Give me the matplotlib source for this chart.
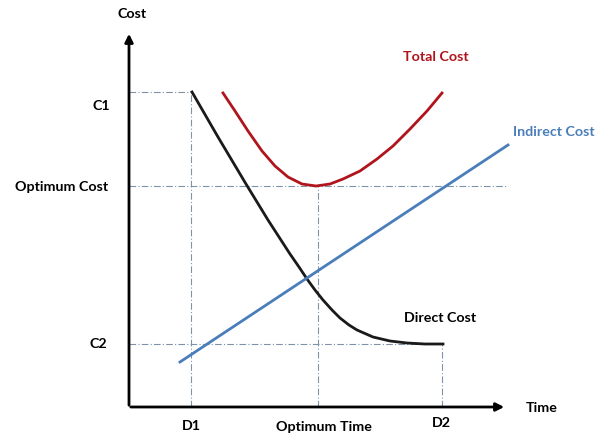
import matplotlib.pyplot as plt

plt.rcParams['font.family'] = ['Lato', 'DejaVu Sans']

# time / cost in arbitrary units, origin at the axes corner
d1, t_opt, d2 = 62, 189, 313
c1, c_opt, c2 = 315, 221, 63

direct_t = [63, 89, 117, 139, 161, 170, 178, 186, 194, 203, 211, 220, 228, 244, 261, 278, 296, 314]
direct_c = [315, 270, 223, 187, 153, 140, 128, 117, 107, 97, 89, 82, 77, 70, 66, 64, 63, 63]

indirect_t = [51, 379]
indirect_c = [45, 262]

total_t = [94, 106, 119, 133, 146, 159, 173, 187, 201, 214, 231, 248, 264, 281, 298, 313]
total_c = [314, 296, 276, 256, 241, 230, 223, 221, 223, 228, 236, 248, 261, 278, 296, 314]

fig = plt.figure(figsize=(6.07, 4.35), dpi=100)
ax = fig.add_axes([0, 0, 1, 1])
ax.set_xlim(-129, 478)
ax.set_ylim(-27, 408)
ax.axis('off')

grid = dict(color='#7f93a8', lw=0.8, ls=(0, (6, 2, 1, 2)))
# horizontal guides
ax.plot([0, d1], [c1, c1], **grid)
ax.plot([0, 379], [c_opt, c_opt], **grid)
ax.plot([0, d2], [c2, c2], **grid)
# vertical guides
ax.plot([d1, d1], [0, c1], **grid)
ax.plot([t_opt, t_opt], [0, c_opt], **grid)
ax.plot([d2, d2], [0, c2], **grid)

# axes with arrows
ax.annotate('', xy=(378, 0), xytext=(-1, 0),
            arrowprops=dict(arrowstyle='-|>', color='black', lw=2, mutation_scale=12))
ax.annotate('', xy=(0, 376), xytext=(0, -1),
            arrowprops=dict(arrowstyle='-|>', color='black', lw=2, mutation_scale=12))

ax.plot(direct_t, direct_c, color='#1a1a1a', lw=2, solid_joinstyle='round')
ax.plot(indirect_t, indirect_c, color='#4a7ebb', lw=2)
ax.plot(total_t, total_c, color='#b0141c', lw=2, solid_joinstyle='round')

fs = 10.3
ax.text(3, 394, 'Cost', ha='center', va='center', fontsize=fs, fontweight='bold')
ax.text(413, 0, 'Time', ha='center', va='center', fontsize=fs, fontweight='bold')
ax.text(-19, 302, 'C1', ha='right', va='center', fontsize=fs, fontweight='bold')
ax.text(-21, c_opt, 'Optimum Cost', ha='right', va='center', fontsize=fs, fontweight='bold')
ax.text(-22, 64, 'C2', ha='right', va='center', fontsize=fs, fontweight='bold')
ax.text(d1, -18, 'D1', ha='center', va='center', fontsize=fs, fontweight='bold')
ax.text(195, -19, 'Optimum Time', ha='center', va='center', fontsize=fs, fontweight='bold')
ax.text(312, -15, 'D2', ha='center', va='center', fontsize=fs, fontweight='bold')
ax.text(307, 351, 'Total Cost', ha='center', va='center', fontsize=fs,
        fontweight='bold', color='#b0141c')
ax.text(425, 276, 'Indirect Cost', ha='center', va='center', fontsize=fs,
        fontweight='bold', color='#4a7ebb')
ax.text(311, 90, 'Direct Cost', ha='center', va='center', fontsize=fs, fontweight='bold')

fig.savefig('out.png', dpi=100)
